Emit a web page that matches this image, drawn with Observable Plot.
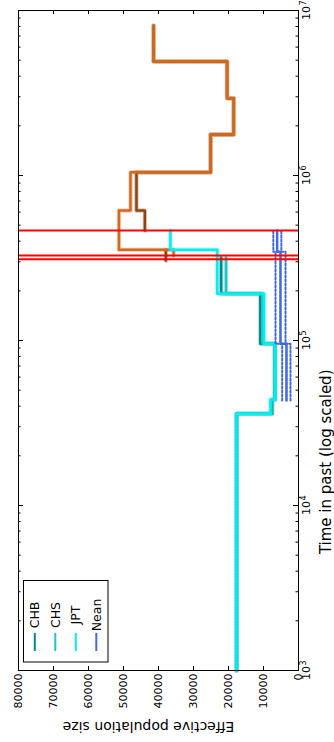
<!DOCTYPE html>
<html><head><meta charset="utf-8">
<script src="https://cdn.jsdelivr.net/npm/d3@7"></script>
<script src="https://cdn.jsdelivr.net/npm/@observablehq/plot@0.6"></script>
<style>html,body{margin:0;padding:0;background:#fff;} svg{display:block}</style>
</head><body><div id="chart"></div>
<script>
// ---- tick labels ----
const neTicks = [0, 10000, 20000, 30000, 40000, 50000, 60000, 70000, 80000];
const timeTicks = [1e3, 1e4, 1e5, 1e6, 1e7];
const timeTickBase = "10";
const timeTickExp = ["3", "4", "5", "6", "7"];
const neLabel = "Effective population size";
const timeLabel = "Time in past (log scaled)";

// ---- split times (red lines) ----
const splitTimes = [464000, 327000, 311000];

// ---- step series: interval boundaries (years) and Ne per interval ----
const chbTimes = [1000, 36000, 43700, 95500, 192000, 318000];
const chbNe    = [17600, 7500, 6800, 10900, 22100];
const chsTimes = [1000, 36000, 43700, 95500, 192000, 318000];
const chsNe    = [17800, 7800, 6600, 10100, 20700];
const jptTimes = [1000, 36000, 43700, 95500, 192000, 355000, 464000];
const jptNe    = [17700, 8000, 6700, 9900, 23200, 36600];
const neanTimes = [43300, 95500, 345000, 464000];
const neanNe    = [3430, 5150, 6100];
const neanLo    = [2290, 3710, 4900];
const neanHi    = [4670, 6570, 7200];
const orangeTimes = [327000, 355000, 613000, 1047000, 1770000, 2940000, 4910000, 8110000];
const orangeNe    = [35700, 51300, 48000, 25100, 18500, 20400, 41400];
const brownTimes  = [464000, 613000, 1047000, 1770000, 2940000, 4910000, 8110000];
const brownNe     = [43900, 46300, 25100, 18500, 20400, 41400];
const brownTailTimes = [305000, 355000];
const brownTailNe    = [37900];

// ---- legend ----
const legendNames  = ["CHB", "CHS", "JPT", "Nean"];
const legendColors = ["#008B8B", "#22C4C4", "#00EEEE", "#4169E1"];
const orangeColor = "#D2691E";
const brownColor = "#8B4513";

function steps(times, ne) {
  const out = [];
  for (let i = 0; i < ne.length; i++) {
    out.push({t: times[i], ne: ne[i]});
    out.push({t: times[i + 1], ne: ne[i]});
  }
  return out;
}
const minorTicks = [];
for (const dec of [1e3, 1e4, 1e5, 1e6]) for (let k = 2; k <= 9; k++) minorTicks.push(dec * k);

const W = 334, H = 742, mL = 18, mR = 36, mT = 10, mB = 72;
const fw = W - mL - mR, fh = H - mT - mB;

function series(data, color) {
  return [
    Plot.line(data, {x: "ne", y: "t", stroke: color, strokeWidth: 4.6, strokeOpacity: 0.3, strokeDasharray: "1.5,1.5"}),
    Plot.line(data, {x: "ne", y: "t", stroke: color, strokeWidth: 2.5})
  ];
}

const chart = Plot.plot({
  width: W, height: H,
  marginLeft: mL, marginRight: mR, marginTop: mT, marginBottom: mB,
  style: {fontFamily: "DejaVu Sans", fontSize: "11px", background: "white"},
  x: {domain: [80000, 0], label: null},
  y: {type: "log", domain: [1e3, 1e7], label: null, axis: null},
  marks: [
    ...series(steps(brownTimes, brownNe), brownColor),
    ...series(steps(brownTailTimes, brownTailNe), brownColor),
    ...series(steps(orangeTimes, orangeNe), orangeColor),
    ...series(steps(chbTimes, chbNe), legendColors[0]),
    ...series(steps(chsTimes, chsNe), legendColors[1]),
    ...series(steps(jptTimes, jptNe), legendColors[2]),
    Plot.line(steps(neanTimes, neanLo), {x: "ne", y: "t", stroke: legendColors[3], strokeWidth: 2, strokeDasharray: "2,2"}),
    Plot.line(steps(neanTimes, neanHi), {x: "ne", y: "t", stroke: legendColors[3], strokeWidth: 2, strokeDasharray: "2,2"}),
    Plot.line(steps(neanTimes, neanNe), {x: "ne", y: "t", stroke: legendColors[3], strokeWidth: 2.5}),
    Plot.ruleY(splitTimes, {y: d => d, stroke: "red", strokeWidth: 2}),
    // inward ticks
    Plot.ruleX(neTicks, {x: d => d, insetTop: fh - 4, stroke: "black"}),
    Plot.ruleX(neTicks, {x: d => d, insetBottom: fh - 4, stroke: "black"}),
    Plot.ruleY(timeTicks, {y: d => d, insetLeft: fw - 5, stroke: "black"}),
    Plot.ruleY(timeTicks, {y: d => d, insetRight: fw - 5, stroke: "black"}),
    Plot.ruleY(minorTicks, {y: d => d, insetLeft: fw - 2.5, stroke: "black"}),
    Plot.ruleY(minorTicks, {y: d => d, insetRight: fw - 2.5, stroke: "black"}),
    Plot.axisX({anchor: "bottom", ticks: neTicks, tickFormat: d3.format("d"), tickRotate: -90, tickSize: 0, tickPadding: 3, label: null, fontSize: 11}),
    // log tick labels 10^k : base and raised exponent
    Plot.text(timeTicks, {y: d => d, frameAnchor: "right", text: () => timeTickBase, rotate: -90, textAnchor: "middle", lineAnchor: "top", dx: 3.5, dy: 2.5, fontSize: 11}),
    Plot.text(timeTicks, {y: d => d, frameAnchor: "right", text: (d, i) => timeTickExp[i], rotate: -90, textAnchor: "middle", lineAnchor: "top", dx: 1.5, dy: -7.5, fontSize: 8}),
    Plot.text([neLabel], {frameAnchor: "bottom", text: d => d, dx: -10, dy: 51, rotate: 180, fontSize: 14}),
    Plot.text([timeLabel], {frameAnchor: "right", text: d => d, dx: 28, dy: 29, rotate: -90, fontSize: 15}),
    Plot.frame({stroke: "black", strokeWidth: 1})
  ]
});

document.getElementById("chart").appendChild(chart);

// legend box (inside frame, lower-left)
const svg = d3.select(chart);
const lg = svg.append("g").attr("font-family", "DejaVu Sans");
lg.append("rect").attr("x", 23.5).attr("y", 580.5).attr("width", 84.5).attr("height", 81.5)
  .attr("fill", "white").attr("stroke", "black").attr("stroke-width", 1);
legendNames.forEach((n, i) => {
  const cx = 34.8 + 20.5 * i;
  lg.append("text").attr("transform", `translate(${cx},615) rotate(-90)`)
    .attr("dy", "0.35em").attr("font-size", 12.5).attr("fill", "black").text(n);
  lg.append("line").attr("x1", cx).attr("x2", cx).attr("y1", 633).attr("y2", 651)
    .attr("stroke", legendColors[i]).attr("stroke-width", 2);
});
</script>
</body></html>
